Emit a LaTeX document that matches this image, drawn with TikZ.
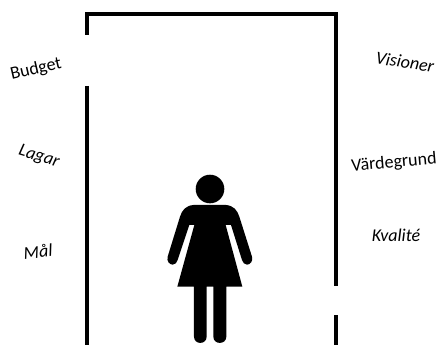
\documentclass[tikz,border=0pt]{standalone}
\usepackage{fontspec}
\setmainfont{Carlito}
\tikzset{
  wall/.style={line width=4pt,black,line cap=butt,line join=miter},
  word/.style={inner sep=0pt,text=black,font=\fontsize{18}{20}\selectfont},
  slant/.style={word,font=\fontsize{18}{20}\selectfont\itshape},
}
\begin{document}
\begin{tikzpicture}[x=1pt,y=-1pt]
\useasboundingbox (0,0) rectangle (442,345);
\coordinate (a) at (87,35);
\coordinate (b) at (87,14);
\coordinate (c) at (335.5,14);
\coordinate (d) at (335.5,285.5);
\coordinate (e) at (335.5,315);
\coordinate (f) at (335.5,345);
\coordinate (g) at (87,86);
\coordinate (h) at (87,345);
\draw[wall] (a) -- (b) -- (c) -- (d);
\draw[wall] (e) -- (f);
\draw[wall] (g) -- (h);
% figure
\fill[black] (210,189) circle (14.3);
\begin{scope}[shift={(150,160)},x=0.3333pt,y=-0.3333pt]
\fill[black]
 (130,135) -- (228,135)
 .. controls (250,137) and (262,150) .. (268,170)
 -- (306,290)
 .. controls (310,304) and (300,314) .. (291,314)
 .. controls (283,314) and (279,308) .. (276,300)
 -- (243,195) -- (227,195) -- (277,380) -- (229,380) -- (229,530)
 .. controls (229,555) and (190,555) .. (190,530)
 -- (190,380) -- (170,380) -- (170,530)
 .. controls (170,555) and (132,555) .. (132,530)
 -- (132,380) -- (82,380) -- (133,195) -- (118,195) -- (83,300)
 .. controls (80,308) and (76,314) .. (68,314)
 .. controls (59,314) and (49,304) .. (53,290)
 -- (90,170)
 .. controls (96,150) and (108,137) .. (130,135) -- cycle;
\end{scope}
\node[word,rotate=13] (budget) at (36,69.5) {Budget};
\node[slant,rotate=-9] (visioner) at (405,62) {Visioner};
\node[word,rotate=5] (varde) at (394,163) {Värdegrund};
\node[slant] (kvalite) at (396,235) {Kvalité};
\node[slant,rotate=-17] (lagar) at (39,157) {Lagar};
\node[slant,rotate=5] (mal) at (38,251.5) {Mål};
\end{tikzpicture}
\end{document}
